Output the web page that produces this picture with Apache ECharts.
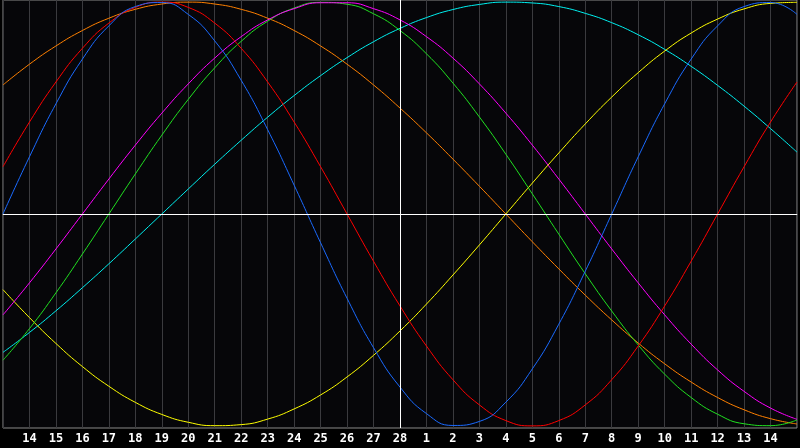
<!DOCTYPE html>
<html>
<head>
<meta charset="utf-8">
<script src="https://cdn.jsdelivr.net/npm/echarts@6/dist/echarts.min.js"></script>
<style>
html,body{margin:0;padding:0;background:#000;}
#chart{width:800px;height:448px;}
</style>
</head>
<body>
<div id="chart"></div>
<script>
// day labels (first and last positions are the plot edges, unlabeled)
const dayLabels = ['', '14','15','16','17','18','19','20','21','22','23','24','25','26','27','28',
  '1','2','3','4','5','6','7','8','9','10','11','12','13','14', ''];

const blueVals = [0, 0.270, 0.520, 0.731, 0.888, 0.979, 0.998, 0.942, 0.817, 0.631, 0.398, 0.136, -0.136, -0.398, -0.631, -0.817,
  -0.942, -0.998, -0.979, -0.888, -0.731, -0.520, -0.270, 0, 0.270, 0.520, 0.731, 0.888, 0.979, 0.998, 0.942];
const redVals = [0.223, 0.434, 0.623, 0.782, 0.901, 0.975, 1.000, 0.975, 0.901, 0.782, 0.623, 0.434, 0.223, 0, -0.223, -0.434,
  -0.623, -0.782, -0.901, -0.975, -1.000, -0.975, -0.901, -0.782, -0.623, -0.434, -0.223, 0, 0.223, 0.434, 0.623];
const greenVals = [-0.690, -0.541, -0.372, -0.189, 0, 0.189, 0.372, 0.541, 0.690, 0.815, 0.910, 0.972, 0.999, 0.990, 0.945, 0.866,
  0.756, 0.618, 0.458, 0.282, 0.095, -0.095, -0.282, -0.458, -0.618, -0.756, -0.866, -0.945, -0.990, -0.999, -0.972];
const magentaVals = [-0.476, -0.325, -0.165, 0, 0.165, 0.325, 0.476, 0.614, 0.736, 0.837, 0.916, 0.969, 0.997, 0.997, 0.969, 0.916,
  0.837, 0.736, 0.614, 0.476, 0.325, 0.165, 0, -0.165, -0.325, -0.476, -0.614, -0.736, -0.837, -0.916, -0.969];
const yellowVals = [-0.357, -0.489, -0.611, -0.720, -0.813, -0.889, -0.946, -0.983, -0.999, -0.994, -0.968, -0.920, -0.854, -0.769, -0.667, -0.552,
  -0.425, -0.288, -0.146, 0, 0.146, 0.288, 0.425, 0.552, 0.667, 0.769, 0.854, 0.920, 0.968, 0.994, 0.999];
const orangeVals = [0.609, 0.707, 0.793, 0.866, 0.924, 0.966, 0.991, 1.000, 0.991, 0.966, 0.924, 0.866, 0.793, 0.707, 0.609, 0.500,
  0.383, 0.259, 0.131, 0, -0.131, -0.259, -0.383, -0.500, -0.609, -0.707, -0.793, -0.866, -0.924, -0.966, -0.991];
const cyanVals = [-0.653, -0.559, -0.457, -0.348, -0.235, -0.118, 0, 0.118, 0.235, 0.348, 0.457, 0.559, 0.653, 0.738, 0.813, 0.876,
  0.927, 0.965, 0.989, 1.000, 0.996, 0.979, 0.947, 0.903, 0.846, 0.777, 0.697, 0.607, 0.509, 0.403, 0.292];

const todayIndex = 15;

const curves = [
  {name: 'cyan', data: cyanVals, color: '#00f0f0'},
  {name: 'orange', data: orangeVals, color: '#ff8000'},
  {name: 'yellow', data: yellowVals, color: '#ffff00'},
  {name: 'green', data: greenVals, color: '#20e020'},
  {name: 'magenta', data: magentaVals, color: '#ff00ff'},
  {name: 'red', data: redVals, color: '#ff0000'},
  {name: 'blue', data: blueVals, color: '#1a6aff'}
];

const chart = echarts.init(document.getElementById('chart'), null, {renderer: 'canvas'});

const series = [{
  type: 'line',
  data: [],
  silent: true,
  markLine: {
    silent: true,
    symbol: 'none',
    label: {show: false},
    lineStyle: {color: '#ffffff', width: 1, type: 'solid'},
    data: [{xAxis: todayIndex}, {yAxis: 0}]
  }
}].concat(curves.map(c => ({
  name: c.name,
  type: 'line',
  data: c.data,
  smooth: true,
  showSymbol: false,
  lineStyle: {color: c.color, width: 1},
  itemStyle: {color: c.color}
})));

chart.setOption({
  animation: false,
  backgroundColor: '#000000',
  grid: {
    left: 0, right: 1, top: 0, bottom: 20,
    show: true,
    backgroundColor: '#060609',
    borderColor: '#8a8a8a',
    borderWidth: 1
  },
  xAxis: {
    type: 'category',
    data: dayLabels,
    boundaryGap: false,
    axisLine: {show: true, lineStyle: {color: '#9a9a9a', width: 1}},
    axisTick: {show: false},
    axisLabel: {
      interval: 0,
      color: '#ffffff',
      fontFamily: 'DejaVu Sans Mono',
      fontWeight: 'bold',
      fontSize: 12,
      margin: 5
    },
    splitLine: {show: true, interval: 0, lineStyle: {color: '#3a3a3e', width: 1}}
  },
  yAxis: {
    type: 'value',
    min: -1.01,
    max: 1.01,
    show: false,
    splitLine: {show: false}
  },
  series: series
});
</script>
</body>
</html>
